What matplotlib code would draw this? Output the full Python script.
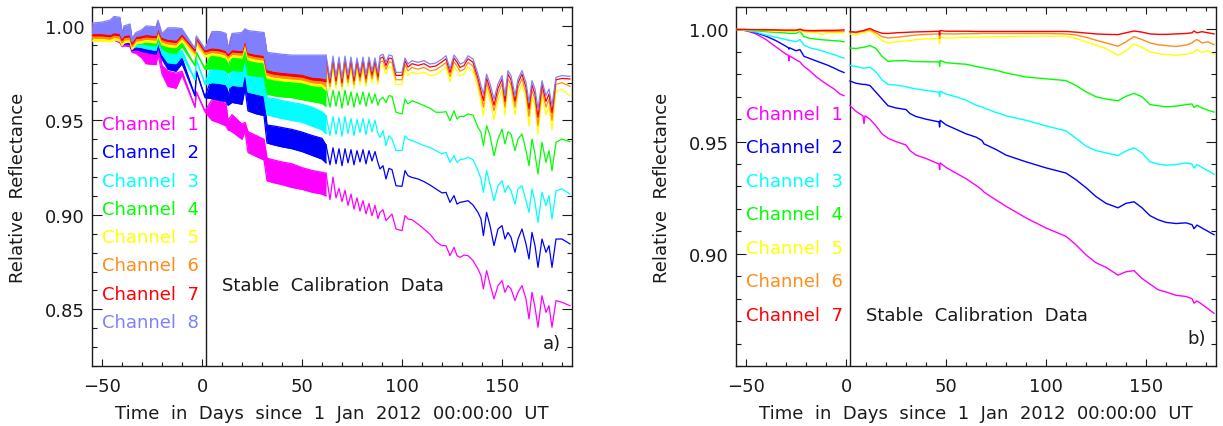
import matplotlib
matplotlib.use("Agg")
import matplotlib.pyplot as plt
from matplotlib.ticker import MultipleLocator, FixedLocator, FormatStrFormatter

plt.rcParams['font.family'] = ['DejaVu Sans']

# ---------------- data: panel a) ----------------
channels_a = ["Channel  1", "Channel  2", "Channel  3", "Channel  4",
              "Channel  5", "Channel  6", "Channel  7", "Channel  8"]
colors_a = ["#ff00ff", "#0000ff", "#00ffff", "#00ff00",
            "#ffff00", "#ff8c1a", "#ff0000", "#8080ff"]

# dense (daily sawtooth) part: envelope low / high
t_band = [-55, -50, -46, -44, -41, -40, -39, -36, -35, -33, -30, -28, -23, -22, -20, -17, -13, -10,
          -3.5, -2.8, 1.5, 5, 9, 12, 13, 15, 20, 21.5, 23, 27, 31, 32.5, 36, 40, 45, 50, 55, 60, 62]

ch1_lo = [0.9935, 0.9925, 0.9920, 0.9925, 0.9910, 0.9890, 0.9895, 0.9890, 0.9860, 0.9855,
          0.9830, 0.9800, 0.9795, 0.9850, 0.9745, 0.9680, 0.9670, 0.9740, 0.9570, 0.9650,
          0.9545, 0.9500, 0.9485, 0.9470, 0.9450, 0.9440, 0.9400, 0.9440, 0.9330, 0.9310,
          0.9290, 0.9180, 0.9170, 0.9160, 0.9145, 0.9135, 0.9120, 0.9110, 0.9100]
ch1_hi = [0.9985, 0.9980, 0.9990, 1.0000, 0.9985, 0.9915, 0.9930, 0.9925, 0.9880, 0.9890,
          0.9880, 0.9860, 0.9855, 0.9915, 0.9790, 0.9760, 0.9750, 0.9760, 0.9570, 0.9650,
          0.9550, 0.9610, 0.9600, 0.9590, 0.9500, 0.9530, 0.9480, 0.9490, 0.9440, 0.9420,
          0.9400, 0.9300, 0.9290, 0.9280, 0.9270, 0.9250, 0.9235, 0.9225, 0.9220]
ch2_lo = [0.9940, 0.9935, 0.9930, 0.9935, 0.9925, 0.9895, 0.9905, 0.9905, 0.9870, 0.9875,
          0.9865, 0.9860, 0.9850, 0.9895, 0.9825, 0.9770, 0.9760, 0.9800, 0.9630, 0.9760,
          0.9620, 0.9615, 0.9605, 0.9600, 0.9580, 0.9595, 0.9585, 0.9670, 0.9550, 0.9535,
          0.9525, 0.9380, 0.9370, 0.9360, 0.9350, 0.9335, 0.9315, 0.9295, 0.9275]
ch2_hi = [0.9990, 0.9990, 1.0000, 1.0010, 1.0000, 0.9925, 0.9940, 0.9940, 0.9890, 0.9905,
          0.9910, 0.9910, 0.9905, 0.9955, 0.9855, 0.9835, 0.9825, 0.9830, 0.9630, 0.9760,
          0.9625, 0.9730, 0.9725, 0.9715, 0.9630, 0.9715, 0.9705, 0.9730, 0.9650, 0.9640,
          0.9630, 0.9475, 0.9470, 0.9462, 0.9452, 0.9438, 0.9420, 0.9405, 0.9370]
ch3_lo = [0.9945, 0.9940, 0.9935, 0.9940, 0.9930, 0.9905, 0.9915, 0.9915, 0.9880, 0.9890,
          0.9885, 0.9880, 0.9870, 0.9915, 0.9850, 0.9805, 0.9800, 0.9840, 0.9715, 0.9820,
          0.9690, 0.9700, 0.9695, 0.9690, 0.9670, 0.9685, 0.9680, 0.9760, 0.9650, 0.9640,
          0.9630, 0.9530, 0.9520, 0.9510, 0.9500, 0.9490, 0.9470, 0.9450, 0.9430]
ch3_hi = [0.9995, 0.9995, 1.0005, 1.0015, 1.0005, 0.9930, 0.9950, 0.9950, 0.9900, 0.9920,
          0.9925, 0.9930, 0.9925, 0.9975, 0.9880, 0.9865, 0.9860, 0.9870, 0.9715, 0.9820,
          0.9695, 0.9800, 0.9795, 0.9785, 0.9710, 0.9790, 0.9785, 0.9810, 0.9750, 0.9740,
          0.9730, 0.9620, 0.9615, 0.9605, 0.9595, 0.9585, 0.9570, 0.9545, 0.9525]
ch4_lo = [0.9950, 0.9945, 0.9940, 0.9945, 0.9935, 0.9915, 0.9925, 0.9925, 0.9890, 0.9905,
          0.9905, 0.9900, 0.9895, 0.9935, 0.9880, 0.9860, 0.9855, 0.9890, 0.9790, 0.9860,
          0.9770, 0.9775, 0.9770, 0.9765, 0.9750, 0.9765, 0.9760, 0.9830, 0.9740, 0.9735,
          0.9730, 0.9640, 0.9630, 0.9625, 0.9620, 0.9610, 0.9600, 0.9590, 0.9575]
ch4_hi = [1.0000, 1.0000, 1.0010, 1.0020, 1.0010, 0.9940, 0.9960, 0.9960, 0.9910, 0.9930,
          0.9940, 0.9945, 0.9945, 0.9990, 0.9910, 0.9905, 0.9900, 0.9910, 0.9790, 0.9860,
          0.9775, 0.9865, 0.9860, 0.9850, 0.9780, 0.9850, 0.9850, 0.9880, 0.9835, 0.9830,
          0.9825, 0.9720, 0.9718, 0.9715, 0.9712, 0.9705, 0.9695, 0.9685, 0.9675]
ch5_lo = [0.9920, 0.9920, 0.9915, 0.9925, 0.9920, 0.9895, 0.9910, 0.9915, 0.9875, 0.9905,
          0.9910, 0.9915, 0.9910, 0.9950, 0.9900, 0.9890, 0.9885, 0.9920, 0.9840, 0.9905,
          0.9835, 0.9845, 0.9840, 0.9830, 0.9815, 0.9835, 0.9830, 0.9890, 0.9820, 0.9810,
          0.9805, 0.9725, 0.9715, 0.9710, 0.9705, 0.9700, 0.9685, 0.9680, 0.9660]
ch5_hi = [0.9985, 0.9990, 1.0000, 1.0020, 1.0015, 0.9930, 0.9970, 0.9980, 0.9905, 0.9935,
          0.9950, 0.9970, 0.9965, 1.0000, 0.9930, 0.9960, 0.9960, 0.9955, 0.9840, 0.9905,
          0.9840, 0.9940, 0.9940, 0.9930, 0.9850, 0.9930, 0.9935, 0.9955, 0.9945, 0.9940,
          0.9935, 0.9830, 0.9825, 0.9820, 0.9815, 0.9815, 0.9815, 0.9810, 0.9785]
ch6_lo = [0.9935, 0.9935, 0.9930, 0.9940, 0.9935, 0.9910, 0.9925, 0.9930, 0.9890, 0.9920,
          0.9925, 0.9930, 0.9925, 0.9965, 0.9915, 0.9905, 0.9900, 0.9935, 0.9855, 0.9920,
          0.9850, 0.9860, 0.9855, 0.9845, 0.9830, 0.9850, 0.9845, 0.9905, 0.9835, 0.9825,
          0.9820, 0.9740, 0.9730, 0.9725, 0.9720, 0.9715, 0.9700, 0.9695, 0.9680]
ch6_hi = [0.9995, 1.0000, 1.0010, 1.0030, 1.0025, 0.9940, 0.9980, 0.9990, 0.9915, 0.9945,
          0.9960, 0.9980, 0.9975, 1.0010, 0.9940, 0.9970, 0.9970, 0.9965, 0.9855, 0.9920,
          0.9855, 0.9950, 0.9950, 0.9940, 0.9860, 0.9940, 0.9945, 0.9965, 0.9955, 0.9950,
          0.9945, 0.9840, 0.9835, 0.9830, 0.9825, 0.9825, 0.9825, 0.9820, 0.9810]
ch7_lo = [0.9948, 0.9948, 0.9943, 0.9953, 0.9948, 0.9923, 0.9938, 0.9943, 0.9903, 0.9933,
          0.9938, 0.9943, 0.9938, 0.9978, 0.9928, 0.9918, 0.9913, 0.9948, 0.9868, 0.9933,
          0.9863, 0.9873, 0.9868, 0.9858, 0.9843, 0.9863, 0.9858, 0.9918, 0.9848, 0.9838,
          0.9833, 0.9755, 0.9745, 0.9740, 0.9735, 0.9730, 0.9715, 0.9710, 0.9705]
ch7_hi = [1.0005, 1.0010, 1.0020, 1.0040, 1.0035, 0.9950, 0.9990, 1.0000, 0.9925, 0.9955,
          0.9970, 0.9990, 0.9985, 1.0020, 0.9950, 0.9980, 0.9980, 0.9975, 0.9868, 0.9933,
          0.9868, 0.9960, 0.9960, 0.9950, 0.9870, 0.9950, 0.9955, 0.9975, 0.9965, 0.9960,
          0.9955, 0.9850, 0.9845, 0.9840, 0.9835, 0.9835, 0.9835, 0.9835, 0.9830]
ch8_lo = [0.9960, 0.9960, 0.9955, 0.9965, 0.9960, 0.9935, 0.9950, 0.9955, 0.9915, 0.9945,
          0.9950, 0.9955, 0.9950, 0.9990, 0.9940, 0.9930, 0.9925, 0.9960, 0.9880, 0.9945,
          0.9875, 0.9885, 0.9880, 0.9870, 0.9855, 0.9875, 0.9870, 0.9930, 0.9860, 0.9850,
          0.9845, 0.9770, 0.9760, 0.9755, 0.9750, 0.9745, 0.9730, 0.9725, 0.9720]
ch8_hi = [1.0015, 1.0020, 1.0030, 1.0050, 1.0045, 0.9960, 1.0000, 1.0010, 0.9935, 0.9965,
          0.9980, 1.0000, 0.9995, 1.0030, 0.9960, 0.9990, 0.9990, 0.9985, 0.9880, 0.9945,
          0.9880, 0.9970, 0.9970, 0.9960, 0.9880, 0.9960, 0.9965, 0.9985, 0.9975, 0.9970,
          0.9965, 0.9860, 0.9855, 0.9850, 0.9845, 0.9845, 0.9845, 0.9845, 0.9845]

# sparse part: individual samples
t_line = [62, 64, 65.5, 67, 68.5, 70, 71.5, 73, 74.5, 76, 77.5, 79, 80.5, 82, 83.5, 85, 86.5, 88,
          89, 90.5, 92, 93.5, 95, 97, 100, 101.5, 103, 105, 108, 111, 114, 117, 120, 122, 124, 126,
          127.5, 129, 131, 133, 135.5, 138, 139.5, 140.7, 142.3, 144, 146, 148, 150, 151.5, 153,
          154.5, 156.5, 158, 160, 162, 163.5, 165, 166.5, 168, 170, 172, 173.5, 175, 177, 180, 184]

ch1_line = [0.9220, 0.9080, 0.9200, 0.9090, 0.9140, 0.9070, 0.9130, 0.9050, 0.9110, 0.9030,
            0.9090, 0.9020, 0.9075, 0.9005, 0.9060, 0.8995, 0.9050, 0.8980,
            0.9013, 0.9027, 0.8969, 0.8987, 0.9004, 0.8925, 0.8916, 0.8996, 0.8978, 0.8974, 0.8951, 0.8925,
            0.8898, 0.8858, 0.8837, 0.8837, 0.8784, 0.8828, 0.8784, 0.8775, 0.8787, 0.8784,
            0.8758, 0.8713, 0.8678, 0.8608, 0.8705, 0.8634, 0.8555, 0.8625, 0.8652, 0.8590,
            0.8625, 0.8608, 0.8546, 0.8590, 0.8625, 0.8555, 0.8449, 0.8590, 0.8510, 0.8405,
            0.8572, 0.8484, 0.8519, 0.8405, 0.8546, 0.8537, 0.8519]
ch2_line = [0.9370, 0.9265, 0.9355, 0.9270, 0.9350, 0.9260, 0.9350, 0.9275, 0.9345, 0.9265,
            0.9340, 0.9280, 0.9345, 0.9270, 0.9340, 0.9285, 0.9335, 0.9275,
            0.9243, 0.9260, 0.9190, 0.9246, 0.9239, 0.9154, 0.9151, 0.9234, 0.9207, 0.9198, 0.9190, 0.9176,
            0.9158, 0.9137, 0.9116, 0.9119, 0.9066, 0.9102, 0.9057, 0.9066, 0.9070, 0.9075,
            0.9052, 0.9013, 0.8978, 0.8890, 0.9013, 0.8943, 0.8837, 0.8925, 0.8943, 0.8872,
            0.8907, 0.8881, 0.8802, 0.8872, 0.8925, 0.8846, 0.8766, 0.8907, 0.8837, 0.8722,
            0.8872, 0.8802, 0.8837, 0.8722, 0.8872, 0.8872, 0.8846]
ch3_line = [0.9525, 0.9420, 0.9520, 0.9425, 0.9515, 0.9415, 0.9520, 0.9430, 0.9510, 0.9420,
            0.9505, 0.9435, 0.9510, 0.9425, 0.9505, 0.9440, 0.9500, 0.9430,
            0.9410, 0.9446, 0.9366, 0.9419, 0.9401, 0.9340, 0.9340, 0.9419, 0.9401, 0.9393, 0.9380, 0.9366,
            0.9357, 0.9340, 0.9322, 0.9331, 0.9278, 0.9313, 0.9278, 0.9292, 0.9296, 0.9304,
            0.9292, 0.9234, 0.9190, 0.9119, 0.9234, 0.9163, 0.9075, 0.9154, 0.9181, 0.9119,
            0.9154, 0.9128, 0.9057, 0.9137, 0.9154, 0.9075, 0.9013, 0.9137, 0.9066, 0.8960,
            0.9119, 0.9049, 0.9102, 0.8978, 0.9128, 0.9137, 0.9110]
ch4_line = [0.9675, 0.9570, 0.9660, 0.9575, 0.9655, 0.9565, 0.9660, 0.9580, 0.9650, 0.9570,
            0.9645, 0.9585, 0.9650, 0.9575, 0.9645, 0.9590, 0.9640, 0.9580,
            0.9610, 0.9622, 0.9595, 0.9631, 0.9627, 0.9543, 0.9534, 0.9613, 0.9587, 0.9604, 0.9592, 0.9578,
            0.9564, 0.9543, 0.9543, 0.9546, 0.9498, 0.9551, 0.9507, 0.9521, 0.9521, 0.9534,
            0.9528, 0.9463, 0.9437, 0.9366, 0.9472, 0.9419, 0.9313, 0.9401, 0.9454, 0.9375,
            0.9440, 0.9428, 0.9340, 0.9401, 0.9428, 0.9340, 0.9260, 0.9401, 0.9322, 0.9216,
            0.9384, 0.9278, 0.9340, 0.9234, 0.9384, 0.9401, 0.9387]
ch5_line = [0.9785, 0.9660, 0.9780, 0.9670, 0.9775, 0.9660, 0.9780, 0.9680, 0.9775, 0.9670,
            0.9770, 0.9690, 0.9775, 0.9680, 0.9775, 0.9700, 0.9770, 0.9690,
            0.9782, 0.9790, 0.9745, 0.9785, 0.9780, 0.9690, 0.9690, 0.9770, 0.9737, 0.9755, 0.9746, 0.9755,
            0.9737, 0.9743, 0.9765, 0.9781, 0.9705, 0.9785, 0.9762, 0.9735, 0.9745, 0.9781,
            0.9762, 0.9670, 0.9595, 0.9525, 0.9670, 0.9605, 0.9505, 0.9605, 0.9660, 0.9530,
            0.9690, 0.9660, 0.9530, 0.9640, 0.9690, 0.9610, 0.9470, 0.9625, 0.9575, 0.9428,
            0.9630, 0.9530, 0.9575, 0.9450, 0.9655, 0.9665, 0.9631]
ch6_line = [0.9810, 0.9680, 0.9805, 0.9690, 0.9800, 0.9680, 0.9805, 0.9700, 0.9800, 0.9690,
            0.9795, 0.9710, 0.9800, 0.9700, 0.9800, 0.9720, 0.9795, 0.9710,
            0.9808, 0.9815, 0.9770, 0.9810, 0.9806, 0.9715, 0.9715, 0.9795, 0.9762, 0.9780, 0.9771, 0.9780,
            0.9762, 0.9768, 0.9790, 0.9806, 0.9732, 0.9810, 0.9788, 0.9760, 0.9770, 0.9806,
            0.9788, 0.9700, 0.9630, 0.9570, 0.9700, 0.9640, 0.9550, 0.9640, 0.9695, 0.9570,
            0.9720, 0.9690, 0.9570, 0.9672, 0.9720, 0.9645, 0.9520, 0.9660, 0.9610, 0.9472,
            0.9665, 0.9570, 0.9612, 0.9500, 0.9690, 0.9700, 0.9680]
ch7_line = [0.9830, 0.9700, 0.9825, 0.9710, 0.9820, 0.9700, 0.9825, 0.9720, 0.9820, 0.9710,
            0.9815, 0.9730, 0.9820, 0.9720, 0.9820, 0.9740, 0.9815, 0.9730,
            0.9828, 0.9835, 0.9790, 0.9830, 0.9827, 0.9738, 0.9738, 0.9815, 0.9782, 0.9800, 0.9791, 0.9800,
            0.9782, 0.9788, 0.9810, 0.9826, 0.9754, 0.9830, 0.9808, 0.9780, 0.9790, 0.9826,
            0.9808, 0.9722, 0.9655, 0.9605, 0.9725, 0.9665, 0.9580, 0.9670, 0.9718, 0.9600,
            0.9745, 0.9715, 0.9600, 0.9698, 0.9745, 0.9675, 0.9560, 0.9688, 0.9638, 0.9516,
            0.9690, 0.9600, 0.9640, 0.9540, 0.9715, 0.9722, 0.9719]
ch8_line = [0.9845, 0.9720, 0.9840, 0.9730, 0.9835, 0.9720, 0.9840, 0.9740, 0.9835, 0.9730,
            0.9830, 0.9750, 0.9835, 0.9740, 0.9835, 0.9760, 0.9830, 0.9750,
            0.9842, 0.9850, 0.9807, 0.9846, 0.9842, 0.9754, 0.9754, 0.9830, 0.9798, 0.9816, 0.9807, 0.9816,
            0.9798, 0.9804, 0.9825, 0.9842, 0.9772, 0.9846, 0.9825, 0.9798, 0.9807, 0.9842,
            0.9825, 0.9745, 0.9684, 0.9640, 0.9745, 0.9693, 0.9613, 0.9693, 0.9737, 0.9631,
            0.9763, 0.9737, 0.9631, 0.9719, 0.9763, 0.9701, 0.9595, 0.9710, 0.9666, 0.9560,
            0.9710, 0.9631, 0.9666, 0.9578, 0.9728, 0.9737, 0.9733]

# ---------------- data: panel b) ----------------
channels_b = channels_a[:7]
colors_b = colors_a[:7]

t_before = [-55, -50, -45, -40, -35, -30, -28.8, -28.5, -28.2, -25, -23, -21, -18, -15, -12, -9, -6, -3, -1]
b1_before = [1.0000, 0.9995, 0.9980, 0.9955, 0.9922, 0.9890, 0.9885, 0.9860, 0.9882, 0.9865,
             0.9855, 0.9835, 0.9815, 0.9790, 0.9770, 0.9752, 0.9735, 0.9712, 0.9705]
b2_before = [1.0000, 0.9995, 0.9985, 0.9970, 0.9950, 0.9925, 0.9918, 0.9912, 0.9918, 0.9905,
             0.9910, 0.9880, 0.9870, 0.9860, 0.9850, 0.9840, 0.9828, 0.9815, 0.9808]
b3_before = [1.0000, 0.9995, 0.9988, 0.9975, 0.9965, 0.9955, 0.9952, 0.9950, 0.9952, 0.9945,
             0.9955, 0.9930, 0.9918, 0.9912, 0.9905, 0.9895, 0.9888, 0.9878, 0.9872]
b4_before = [1.0000, 0.9998, 0.9994, 0.9990, 0.9987, 0.9984, 0.9983, 0.9982, 0.9983, 0.9982,
             0.9992, 0.9968, 0.9960, 0.9957, 0.9954, 0.9952, 0.9950, 0.9948, 0.9945]
b5_before = [1.0000, 0.9998, 0.9997, 0.9995, 0.9993, 0.9992, 0.9992, 0.9992, 0.9992, 0.9992,
             0.9995, 0.9988, 0.9987, 0.9986, 0.9978, 0.9986, 0.9985, 0.9986, 0.9985]
b6_before = [1.0000, 0.9999, 0.9998, 0.9997, 0.9996, 0.9995, 0.9995, 0.9995, 0.9995, 0.9995,
             0.9998, 0.9993, 0.9992, 0.9992, 0.9992, 0.9991, 0.9991, 0.9992, 0.9992]
b7_before = [1.0000, 1.0000, 0.9999, 0.9999, 0.9998, 0.9997, 0.9997, 0.9997, 0.9997, 0.9997,
             1.0001, 0.9996, 0.9995, 0.9995, 0.9996, 0.9996, 0.9996, 0.9997, 0.9998]

t_after = [2, 5, 8.5, 9, 9.5, 12, 15, 18, 21, 25, 30, 32, 35, 40, 46.5, 46.8, 47.1, 50, 55, 60,
           65, 68, 69, 75, 80, 90, 100, 110, 115, 120, 125, 130, 136, 140, 144, 148, 152, 156,
           160, 165, 170, 173, 174, 175.5, 178, 181, 184]
b1_after = [0.9660, 0.9635, 0.9615, 0.9580, 0.9615, 0.9600, 0.9570, 0.9535, 0.9515, 0.9500,
            0.9485, 0.9460, 0.9440, 0.9425, 0.9400, 0.9375, 0.9405, 0.9385, 0.9360, 0.9335,
            0.9305, 0.9285, 0.9275, 0.9240, 0.9212, 0.9160, 0.9115, 0.9078, 0.9040, 0.8995,
            0.8960, 0.8940, 0.8905, 0.8920, 0.8925, 0.8890, 0.8865, 0.8840, 0.8830, 0.8815,
            0.8810, 0.8800, 0.8780, 0.8790, 0.8775, 0.8755, 0.8735]
b2_after = [0.9770, 0.9760, 0.9755, 0.9755, 0.9755, 0.9750, 0.9720, 0.9690, 0.9660, 0.9650,
            0.9643, 0.9625, 0.9612, 0.9600, 0.9588, 0.9565, 0.9595, 0.9575, 0.9555, 0.9535,
            0.9520, 0.9505, 0.9490, 0.9465, 0.9440, 0.9410, 0.9383, 0.9360, 0.9330, 0.9295,
            0.9255, 0.9225, 0.9205, 0.9225, 0.9232, 0.9205, 0.9170, 0.9152, 0.9140, 0.9135,
            0.9138, 0.9130, 0.9112, 0.9128, 0.9115, 0.9100, 0.9085]
b3_after = [0.9840, 0.9835, 0.9828, 0.9828, 0.9828, 0.9832, 0.9810, 0.9775, 0.9755, 0.9752,
            0.9745, 0.9740, 0.9735, 0.9728, 0.9720, 0.9700, 0.9725, 0.9712, 0.9700, 0.9685,
            0.9662, 0.9655, 0.9650, 0.9630, 0.9615, 0.9595, 0.9570, 0.9548, 0.9515, 0.9480,
            0.9460, 0.9450, 0.9438, 0.9458, 0.9472, 0.9450, 0.9410, 0.9400, 0.9395, 0.9398,
            0.9405, 0.9400, 0.9382, 0.9398, 0.9385, 0.9370, 0.9355]
b4_after = [0.9917, 0.9915, 0.9920, 0.9920, 0.9922, 0.9928, 0.9915, 0.9880, 0.9858, 0.9860,
            0.9862, 0.9858, 0.9857, 0.9856, 0.9855, 0.9835, 0.9862, 0.9852, 0.9848, 0.9845,
            0.9835, 0.9830, 0.9828, 0.9818, 0.9806, 0.9788, 0.9780, 0.9772, 0.9750, 0.9722,
            0.9700, 0.9690, 0.9682, 0.9702, 0.9715, 0.9700, 0.9665, 0.9660, 0.9655, 0.9658,
            0.9665, 0.9668, 0.9652, 0.9662, 0.9650, 0.9640, 0.9632]
b5_after = [0.9980, 0.9975, 0.9985, 0.9985, 0.9987, 0.9992, 0.9975, 0.9950, 0.9940, 0.9945,
            0.9948, 0.9950, 0.9955, 0.9958, 0.9960, 0.9935, 0.9965, 0.9962, 0.9963, 0.9965,
            0.9966, 0.9967, 0.9967, 0.9968, 0.9968, 0.9970, 0.9970, 0.9970, 0.9960, 0.9945,
            0.9930, 0.9915, 0.9885, 0.9905, 0.9935, 0.9920, 0.9900, 0.9893, 0.9888, 0.9885,
            0.9890, 0.9895, 0.9900, 0.9910, 0.9898, 0.9905, 0.9888]
b6_after = [0.9990, 0.9985, 0.9992, 0.9992, 0.9994, 0.9998, 0.9985, 0.9968, 0.9962, 0.9965,
            0.9970, 0.9972, 0.9975, 0.9978, 0.9980, 0.9960, 0.9982, 0.9980, 0.9980, 0.9981,
            0.9981, 0.9982, 0.9982, 0.9982, 0.9982, 0.9982, 0.9982, 0.9980, 0.9975, 0.9965,
            0.9952, 0.9940, 0.9925, 0.9945, 0.9968, 0.9955, 0.9940, 0.9932, 0.9928, 0.9924,
            0.9930, 0.9940, 0.9948, 0.9955, 0.9940, 0.9945, 0.9932]
b7_after = [0.9990, 0.9988, 0.9995, 0.9995, 0.9998, 1.0004, 0.9992, 0.9983, 0.9982, 0.9985,
            0.9987, 0.9988, 0.9989, 0.9990, 0.9992, 0.9975, 0.9995, 0.9992, 0.9992, 0.9992,
            0.9991, 0.9991, 0.9991, 0.9991, 0.9991, 0.9991, 0.9991, 0.9991, 0.9988, 0.9984,
            0.9980, 0.9978, 0.9977, 0.9985, 0.9993, 0.9988, 0.9980, 0.9978, 0.9978, 0.9980,
            0.9982, 0.9985, 0.9993, 0.9985, 0.9990, 0.9985, 0.9980]

start_day = 1.8
x_label = "Time  in  Days  since  1  Jan  2012  00:00:00  UT"
y_label = "Relative  Reflectance"
note_text = "Stable  Calibration  Data"

# ---------------- figure ----------------
W, H = 1223, 427
fig = plt.figure(figsize=(W / 100, H / 100), dpi=100)
axA = fig.add_axes([92 / W, 60 / H, 480 / W, 359 / H])
axB = fig.add_axes([736 / W, 60 / H, 480 / W, 359 / H])

FS = 13
INK = '#1a1a1a'


def style(ax, ylo, yticks):
    ax.set_xlim(-55, 185)
    ax.set_ylim(ylo, 1.01)
    ax.xaxis.set_major_locator(MultipleLocator(50))
    ax.xaxis.set_minor_locator(MultipleLocator(10))
    ax.yaxis.set_major_locator(FixedLocator(yticks))
    ax.yaxis.set_minor_locator(MultipleLocator(0.01))
    ax.yaxis.set_major_formatter(FormatStrFormatter('%.2f'))
    ax.tick_params(which='both', direction='in', top=True, right=True,
                   width=0.8, color=INK, labelcolor=INK, labelsize=FS)
    ax.tick_params(axis='y', which='major', length=7.2, pad=5)
    ax.tick_params(axis='y', which='minor', length=3.6)
    ax.tick_params(axis='x', which='major', length=5.2, pad=8)
    ax.tick_params(axis='x', which='minor', length=2.6)
    for s in ax.spines.values():
        s.set_linewidth(1.0)
        s.set_color(INK)
    ax.set_xlabel(x_label, fontsize=FS, color=INK)
    ax.set_ylabel(y_label, fontsize=FS, color=INK)
    ax.xaxis.set_label_coords(0.5, -0.131)
    ax.xaxis.label.set_verticalalignment('center')
    ax.yaxis.set_label_coords(-0.154, 0.5)
    ax.yaxis.label.set_verticalalignment('center')
    ax.axvline(start_day, color=INK, lw=1.0)


style(axA, 0.82, [0.85, 0.90, 0.95, 1.00])
style(axB, 0.85, [0.90, 0.95, 1.00])

band_lo = [ch1_lo, ch2_lo, ch3_lo, ch4_lo, ch5_lo, ch6_lo, ch7_lo, ch8_lo]
band_hi = [ch1_hi, ch2_hi, ch3_hi, ch4_hi, ch5_hi, ch6_hi, ch7_hi, ch8_hi]
lines_a = [ch1_line, ch2_line, ch3_line, ch4_line, ch5_line, ch6_line, ch7_line, ch8_line]
for i in range(8):
    c = colors_a[i]
    axA.fill_between(t_band, band_lo[i], band_hi[i], color=c, lw=0, zorder=2 + i)
    axA.plot(t_band, band_lo[i], color=c, lw=0.9, zorder=2 + i)
    axA.plot(t_band, band_hi[i], color=c, lw=0.9, zorder=2 + i)
    axA.plot(t_line, lines_a[i], color=c, lw=0.9, zorder=2 + i)

before_b = [b1_before, b2_before, b3_before, b4_before, b5_before, b6_before, b7_before]
after_b = [b1_after, b2_after, b3_after, b4_after, b5_after, b6_after, b7_after]
for i in range(7):
    c = colors_b[i]
    axB.plot(t_before, before_b[i], color=c, lw=1.0, zorder=2 + i)
    axB.plot(t_after, after_b[i], color=c, lw=1.0, zorder=2 + i)

# legends as coloured text
for i, name in enumerate(channels_a):
    axA.text(0.021, 0.674 - i * 0.0788, name, color=colors_a[i], fontsize=FS,
             transform=axA.transAxes, ha='left', va='center')
for i, name in enumerate(channels_b):
    axB.text(0.021, 0.702 - i * 0.0933, name, color=colors_b[i], fontsize=FS,
             transform=axB.transAxes, ha='left', va='center')

axA.text(0.271, 0.226, note_text, fontsize=FS, color=INK, transform=axA.transAxes, ha='left', va='center')
axB.text(0.271, 0.142, note_text, fontsize=FS, color=INK, transform=axB.transAxes, ha='left', va='center')
axA.text(0.9396, 0.064, "a)", fontsize=FS, color=INK, transform=axA.transAxes, ha='left', va='center')
axB.text(0.9396, 0.078, "b)", fontsize=FS, color=INK, transform=axB.transAxes, ha='left', va='center')

fig.savefig("out.png", dpi=100)
